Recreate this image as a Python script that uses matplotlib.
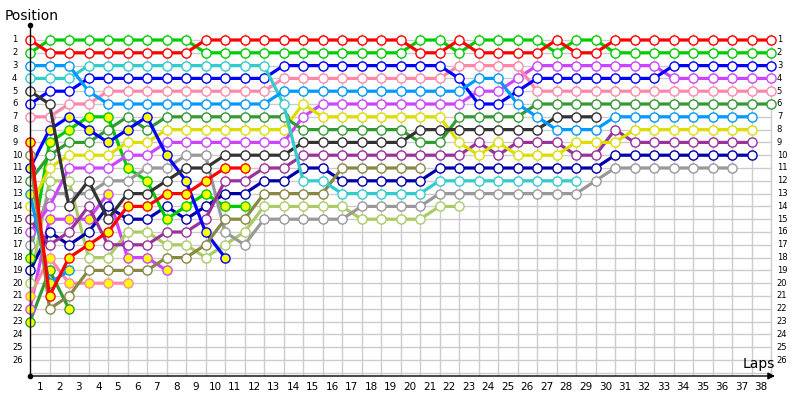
import matplotlib
matplotlib.use('Agg')
import matplotlib.pyplot as plt

# lap-by-lap running position of every car, starting at lap 0 (the grid)
red_1 = [1, 2, 2, 2, 2, 2, 2, 2, 2, 1, 1, 1, 1, 1, 1, 1, 1, 1, 1, 1, 2, 2, 1, 2, 2, 2, 2, 1, 2, 2, 1, 1, 1, 1, 1, 1, 1, 1, 1]
green_1 = [2, 1, 1, 1, 1, 1, 1, 1, 1, 2, 2, 2, 2, 2, 2, 2, 2, 2, 2, 2, 1, 1, 2, 1, 1, 1, 1, 2, 1, 1, 2, 2, 2, 2, 2, 2, 2, 2, 2]
azure_1 = [3, 3, 3, 5, 6, 6, 6, 6, 6, 6, 6, 6, 6, 5, 5, 5, 5, 5, 5, 5, 5, 5, 5, 4, 4, 6, 7, 8, 8, 8, 7, 7, 7, 7, 7, 7, 7, 7]
cyan_1 = [4, 4, 4, 3, 3, 3, 3, 3, 3, 3, 3, 3, 3, 6, 12, 12, 13, 13, 13, 13, 13, 12, 12, 12, 12, 12, 12, 12, 12]
dgray_1 = [5, 6, 14, 12, 15, 13, 13, 12, 11, 11, 10, 10, 10, 10, 9, 9, 9, 9, 9, 9, 8, 8, 8, 8, 8, 8, 8, 7, 7, 7]
blue_1 = [6, 5, 5, 4, 4, 4, 4, 4, 4, 4, 4, 4, 4, 3, 3, 3, 3, 3, 3, 3, 3, 3, 4, 6, 6, 5, 4, 4, 4, 4, 4, 4, 4, 3, 3, 3, 3, 3, 3]
pink_1 = [7, 7, 6, 6, 5, 5, 5, 5, 5, 5, 5, 5, 5, 4, 4, 4, 4, 4, 4, 4, 4, 4, 3, 3, 3, 3, 5, 5, 5, 5, 5, 5, 5, 5, 5, 5, 5, 5, 5]
red_2 = [9, 21, 18, 17, 16, 14, 14, 13, 13, 12, 11, 11]
olive_1 = [10, 22, 21, 19, 19, 19, 19, 18, 18, 17, 15, 15, 13, 13, 13, 13, 11, 11, 11, 11, 11]
blue_2 = [11, 8, 7, 8, 9, 8, 7, 10, 12, 16, 18]
dgreen_1 = [12, 10, 9, 9, 8, 7, 8, 7, 7, 7, 7, 7, 7, 7, 8, 8, 8, 8, 8, 8, 9, 9, 7, 7, 7, 7, 6, 6, 6, 6, 6, 6, 6, 6, 6, 6, 6, 6, 6]
azure_2 = [13, 20, 19]
yellow_1 = [14, 11, 10, 10, 10, 9, 9, 8, 8, 8, 8, 8, 8, 8, 6, 7, 7, 7, 7, 7, 7, 7, 9, 10, 9, 10, 10, 10, 9, 9, 9, 8, 8, 8, 8, 8, 8, 8]
purple_1 = [15, 17, 16, 14, 17, 17, 17, 16, 16, 15, 12, 12, 11, 11, 10, 10, 10, 10, 10, 10, 10, 10, 10, 9, 10, 9, 9, 9, 10, 10, 8, 9, 9, 9, 9, 9, 9, 9]
violet_1 = [16, 14, 11, 11, 11, 10, 10, 9, 9, 9, 9, 9, 9, 9, 7, 6, 6, 6, 6, 6, 6, 6, 6, 5, 5, 4, 3, 3, 3, 3, 3, 3, 3, 4, 4, 4, 4, 4, 4]
gray_1 = [17, 13, 13, 13, 12, 12, 11, 11, 10, 10, 16, 17, 15, 15, 15, 15, 15, 14, 14, 14, 14, 13, 13, 13, 13, 13, 13, 13, 13, 12, 11, 11, 11, 11, 11, 11, 11]
green_2 = [18, 9, 8, 7, 7, 11, 12, 15, 14, 13, 14, 14]
navy_1 = [19, 16, 17, 16, 14, 15, 15, 14, 15, 14, 13, 13, 12, 12, 11, 11, 12, 12, 12, 12, 12, 11, 11, 11, 11, 11, 11, 11, 11, 11, 10, 10, 10, 10, 10, 10, 10, 10]
lgreen_1 = [20, 12, 12, 18, 18, 16, 16, 17, 17, 18, 17, 16, 14, 14, 14, 14, 14, 15, 15, 15, 15, 14, 14]
pink_2 = [21, 18, 20, 20, 20, 20]
violet_2 = [22, 15, 15, 15, 13, 18, 18, 19]
dgreen_2 = [23, 19, 22]

n_laps = 38
n_pos = 26

# (positions, line colour, yellow marker fill)
cars = [
    (dgreen_2, '#339933', True),
    (violet_2, '#cc44ff', True),
    (pink_2, '#ff88aa', True),
    (lgreen_1, '#aacc66', False),
    (navy_1, '#0000aa', False),
    (green_2, '#00cc00', True),
    (gray_1, '#999999', False),
    (violet_1, '#cc44ff', False),
    (purple_1, '#993399', False),
    (yellow_1, '#dddd00', False),
    (azure_2, '#0099ff', True),
    (dgreen_1, '#339933', False),
    (blue_2, '#0000ff', True),
    (olive_1, '#888844', False),
    (red_2, '#ff0000', True),
    (pink_1, '#ff88aa', False),
    (blue_1, '#0000ff', False),
    (dgray_1, '#333333', False),
    (cyan_1, '#33cccc', False),
    (azure_1, '#0099ff', False),
    (green_1, '#00cc00', False),
    (red_1, '#ff0000', False),
]

fig = plt.figure(figsize=(8, 4), dpi=100)
y_top, y_bot = -0.2, 27.25
ax = fig.add_axes([30 / 800, 24 / 400, 39 * 19.5 / 800, (y_bot - y_top) * 12.8 / 400])
ax.set_xlim(0, 39)
ax.set_ylim(y_bot, y_top)
ax.axis('off')

# grid
for k in range(1, n_laps + 1):
    ax.plot([k, k], [0.5, y_bot], color='#cccccc', lw=1, zorder=0)
for p in range(1, n_pos + 2):
    ax.plot([0, n_laps], [p, p], color='#cccccc', lw=1, zorder=0)

# axes with dot and arrow
ax.plot([0, 0], [y_top, y_bot], color='black', lw=1, zorder=5, clip_on=False)
ax.plot([0], [y_top], 'o', color='black', ms=3, zorder=5, clip_on=False)
ax.plot([0], [y_bot], 'o', color='black', ms=3, zorder=5, clip_on=False)
ax.annotate('', xy=(38.35, y_bot), xytext=(0, y_bot),
            arrowprops=dict(arrowstyle='-|>', color='black', lw=1, mutation_scale=10),
            annotation_clip=False, zorder=5)

for pos, col, second in cars:
    laps = list(range(len(pos)))
    ax.plot(laps, pos, '-o', color=col, lw=2.3, ms=6.6,
            mfc='#ffff00' if second else 'white', mec=col, mew=1.0,
            clip_on=False, zorder=2)

# tick labels
for p in range(1, n_pos + 1):
    ax.text(-0.92, p, str(p), fontsize=6, ha='left', va='center')
    ax.text(38.3, p, str(p), fontsize=6, ha='left', va='center')
for k in range(1, n_laps + 1):
    ax.text(k - 0.5, 28.1, str(k), fontsize=7.5, ha='center', va='center')

fig.text(5 / 800, 1 - 16 / 400, 'Position', fontsize=10, va='center', ha='left')
fig.text(759 / 800, 1 - 364 / 400, 'Laps', fontsize=10, va='center', ha='center')

fig.savefig('out.png', dpi=100)
